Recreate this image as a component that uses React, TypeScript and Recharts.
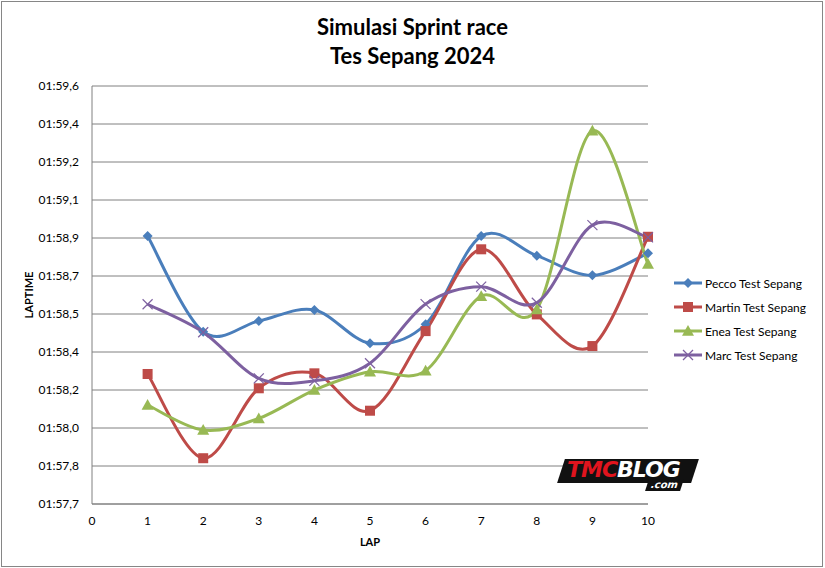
import React from 'react';
import { LineChart, Line, XAxis, YAxis, CartesianGrid, Legend } from 'recharts';

const laps = [1, 2, 3, 4, 5, 6, 7, 8, 9, 10];
// lap times in seconds (1:58.895 -> 118.895)
const pecco = [118.895, 118.46, 118.509, 118.559, 118.408, 118.494, 118.895, 118.806, 118.717, 118.817];
const martin = [118.268, 117.885, 118.203, 118.271, 118.101, 118.463, 118.835, 118.539, 118.395, 118.892];
const enea = [118.127, 118.013, 118.066, 118.195, 118.278, 118.283, 118.622, 118.562, 119.374, 118.768];
const marc = [118.585, 118.458, 118.248, 118.237, 118.317, 118.586, 118.665, 118.592, 118.945, 118.889];

const xTicks = [0, 1, 2, 3, 4, 5, 6, 7, 8, 9, 10];
const yTicks = [117.6768, 117.8496, 118.0224, 118.1952, 118.368, 118.5408, 118.7136, 118.8864, 119.0592, 119.232, 119.4048, 119.5776];
const yTickLabels = ['01:57,7', '01:57,8', '01:58,0', '01:58,2', '01:58,4', '01:58,5', '01:58,7', '01:58,9', '01:59,1', '01:59,2', '01:59,4', '01:59,6'];

const seriesNames = ['Pecco Test Sepang', 'Martin Test Sepang', 'Enea Test Sepang', 'Marc Test Sepang'];
const seriesKeys = ['pecco', 'martin', 'enea', 'marc'];
const seriesColors = ['#4A7EBB', '#BE4B48', '#98B954', '#7D60A0'];
const seriesMarkers = ['diamond', 'square', 'triangle', 'cross'];

const data = laps.map((lap, i) => ({
  lap,
  pecco: pecco[i],
  martin: martin[i],
  enea: enea[i],
  marc: marc[i],
}));

const FONT = 'Lato, "Open Sans", sans-serif';

// Excel-like smoothed line (Catmull-Rom style bezier)
function excelCurve(context: any) {
  let pts: number[][] = [];
  return {
    areaStart() {},
    areaEnd() {},
    lineStart() {
      pts = [];
    },
    lineEnd() {
      if (!pts.length) return;
      context.moveTo(pts[0][0], pts[0][1]);
      for (let i = 0; i < pts.length - 1; i++) {
        const p0 = pts[i - 1] || pts[i];
        const p1 = pts[i];
        const p2 = pts[i + 1];
        const p3 = pts[i + 2] || p2;
        const c1x = p1[0] + (p2[0] - p0[0]) / 6;
        const c1y = p1[1] + (p2[1] - p0[1]) / 6;
        const c2x = p2[0] - (p3[0] - p1[0]) / 6;
        const c2y = p2[1] - (p3[1] - p1[1]) / 6;
        context.bezierCurveTo(c1x, c1y, c2x, c2y, p2[0], p2[1]);
      }
    },
    point(x: number, y: number) {
      pts.push([+x, +y]);
    },
  };
}

function Marker({ cx, cy, kind, color }: { cx: number; cy: number; kind: string; color: string }) {
  if (cx == null || cy == null) return null;
  if (kind === 'diamond') {
    const r = 5;
    return <path d={`M${cx},${cy - r}L${cx + r},${cy}L${cx},${cy + r}L${cx - r},${cy}Z`} fill={color} />;
  }
  if (kind === 'square') {
    const r = 5;
    return <rect x={cx - r} y={cy - r} width={2 * r} height={2 * r} fill={color} />;
  }
  if (kind === 'triangle') {
    const r = 6;
    return <path d={`M${cx},${cy - r}L${cx + r},${cy + r * 0.8}L${cx - r},${cy + r * 0.8}Z`} fill={color} />;
  }
  const r = 5;
  return (
    <g stroke={color} strokeWidth={1.2}>
      <line x1={cx - r} y1={cy - r} x2={cx + r} y2={cy + r} />
      <line x1={cx - r} y1={cy + r} x2={cx + r} y2={cy - r} />
    </g>
  );
}

function renderLegend() {
  return (
    <div style={{ fontFamily: FONT, fontSize: 12, color: '#000' }}>
      {seriesNames.map((name, i) => (
        <div key={name} style={{ display: 'flex', alignItems: 'center', height: 24 }}>
          <svg width={30} height={12} style={{ marginRight: 1 }}>
            <line x1={0} y1={6} x2={28} y2={6} stroke={seriesColors[i]} strokeWidth={3} />
            <Marker cx={14} cy={6} kind={seriesMarkers[i]} color={seriesColors[i]} />
          </svg>
          <span>{name}</span>
        </div>
      ))}
    </div>
  );
}

const YLabel = (props: any) => {
  const { viewBox } = props;
  const x = viewBox.x + 28;
  const y = viewBox.y + viewBox.height / 2;
  return (
    <text x={x} y={y} transform={`rotate(-90 ${x} ${y})`} textAnchor="middle" dominantBaseline="central" fontFamily={FONT} fontSize={11} fontWeight="bold" fill="#000">
      LAPTIME
    </text>
  );
};

const XLabel = (props: any) => {
  const { viewBox } = props;
  return (
    <text x={viewBox.x + viewBox.width / 2} y={viewBox.y + 37} textAnchor="middle" dominantBaseline="central" fontFamily={FONT} fontSize={11} fontWeight="bold" fill="#000">
      LAP
    </text>
  );
};

export default function App() {
  return (
    <div style={{ position: 'absolute', left: 0, top: 0, width: 825, height: 568, background: '#fff', fontFamily: FONT }}>
      <div style={{ position: 'absolute', left: 1, top: 1, width: 820, height: 564, border: '1px solid #868686' }} />
      <div style={{ position: 'absolute', left: 0, top: 12, width: 825, textAlign: 'center', fontSize: 22, fontWeight: 'bold', lineHeight: '29px', color: '#000' }}>
        <div>Simulasi Sprint race</div>
        <div>Tes Sepang 2024</div>
      </div>
      <LineChart width={825} height={568} data={data} margin={{ top: 86, right: 177, bottom: 14, left: 0 }}>
        <CartesianGrid horizontal vertical={false} stroke="#808080" strokeWidth={1} />
        <XAxis
          type="number"
          dataKey="lap"
          domain={[0, 10]}
          ticks={xTicks}
          interval={0}
          height={50}
          axisLine={{ stroke: '#808080' }}
          tickLine={false}
          tickSize={0}
          tickMargin={12}
          tick={{ fontFamily: FONT, fontSize: 12, fill: '#000' }}
          label={<XLabel />}
        />
        <YAxis
          type="number"
          domain={[yTicks[0], yTicks[yTicks.length - 1]]}
          ticks={yTicks}
          interval={0}
          width={92}
          axisLine={{ stroke: '#808080' }}
          tickLine={false}
          tickSize={0}
          tickMargin={13}
          tickFormatter={(v: number) => {
            const idx = yTicks.findIndex((t) => Math.abs(t - v) < 1e-6);
            return idx >= 0 ? yTickLabels[idx] : '';
          }}
          tick={{ fontFamily: FONT, fontSize: 12, fill: '#000' }}
          label={<YLabel />}
        />
        <Legend
          layout="vertical"
          align="center"
          verticalAlign="middle"
          content={renderLegend}
          wrapperStyle={{ left: 674, top: 271, width: 150 }}
        />
        {seriesKeys.map((key, i) => (
          <Line
            key={key}
            dataKey={key}
            name={seriesNames[i]}
            type={excelCurve as any}
            stroke={seriesColors[i]}
            strokeWidth={3}
            isAnimationActive={false}
            dot={(p: any) => <Marker key={`${key}-${p.index}`} cx={p.cx} cy={p.cy} kind={seriesMarkers[i]} color={seriesColors[i]} />}
            activeDot={false}
          />
        ))}
      </LineChart>
      <div style={{ position: 'absolute', left: 561, top: 459, width: 134, height: 33 }}>
        <div style={{ position: 'absolute', left: 0, top: 0, width: 134, height: 24, background: '#111', transform: 'skewX(-18deg)' }} />
        <div style={{ position: 'absolute', left: 6, top: -3, fontFamily: '"DejaVu Sans", sans-serif', fontWeight: 900, fontStyle: 'italic', fontSize: 22, letterSpacing: -1, lineHeight: '28px' }}>
          <span style={{ color: '#E0141E' }}>TMC</span>
          <span style={{ color: '#fff' }}>BLOG</span>
        </div>
        <div style={{ position: 'absolute', left: 86, top: 20, background: '#111', color: '#fff', fontFamily: '"DejaVu Sans", sans-serif', fontWeight: 'bold', fontSize: 10, lineHeight: '12px', padding: '0 4px', transform: 'skewX(-18deg)' }}>
          .com
        </div>
      </div>
    </div>
  );
}
